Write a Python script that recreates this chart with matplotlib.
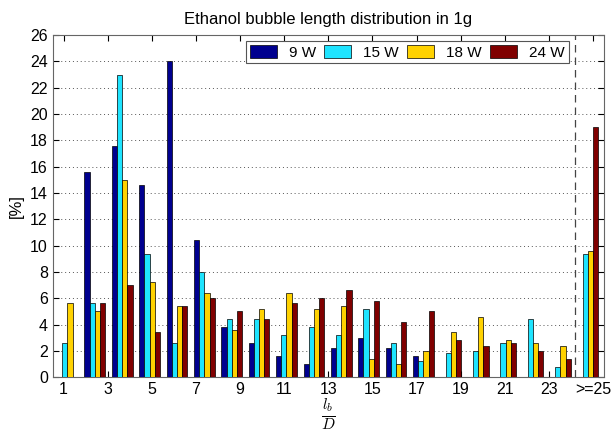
import numpy as np
import matplotlib
matplotlib.use("Agg")
import matplotlib.pyplot as plt

plt.rcParams['font.family'] = ['Liberation Sans', 'DejaVu Sans']
plt.rcParams['mathtext.fontset'] = 'cm'

# bubble length bins (l_b / D), last one collects everything >= 25
n_bins = 20
bin_pos = np.linspace(1.17, 24.76, n_bins)

series_labels = ['9 W', '15 W', '18 W', '24 W']
colors = ['#00008f', '#1ee4ff', '#ffd200', '#800000']

p9 = [0, 15.6, 17.6, 14.6, 24.0, 10.4, 3.85, 2.6, 1.6, 1.0,
      2.2, 3.0, 2.2, 1.6, 0, 0, 0, 0, 0, 0]
p15 = [2.6, 5.6, 23.0, 9.4, 2.6, 8.0, 4.4, 4.4, 3.2, 3.8,
       3.2, 5.2, 2.6, 1.25, 1.8, 2.0, 2.6, 4.4, 0.8, 9.4]
p18 = [5.6, 5.0, 15.0, 7.2, 5.4, 6.4, 3.55, 5.2, 6.4, 5.2,
       5.4, 1.4, 1.0, 2.0, 3.4, 4.6, 2.8, 2.6, 2.4, 9.6]
p24 = [0, 5.6, 7.0, 3.4, 5.4, 6.0, 5.0, 4.4, 5.6, 6.0,
       6.6, 5.8, 4.2, 5.0, 2.8, 2.4, 2.6, 2.0, 1.4, 19.0]

tick_pos = list(range(1, 24, 2)) + [25]
tick_labels = [str(t) for t in range(1, 24, 2)] + ['>=25']

fig = plt.figure(figsize=(6.12, 4.34), dpi=100)
ax = fig.add_axes([0.086, 0.131, 0.901, 0.788])

w = 0.235
for i, (vals, lab, c) in enumerate(zip([p9, p15, p18, p24], series_labels, colors)):
    ax.bar(bin_pos + (i - 1.5) * w, vals, width=w, color=c, edgecolor='black',
           linewidth=0.5, label=lab, zorder=3)

# separator before the open-ended bin
ax.axvline(24.2, color='#444444', linestyle=(0, (6, 4)), linewidth=0.9, zorder=2)

ax.set_xlim(0.5, 25.5)
ax.set_ylim(0, 26)
ax.set_yticks(range(0, 27, 2))
ax.set_xticks(tick_pos)
ax.set_xticklabels(tick_labels)
ax.tick_params(direction='in', top=True, right=True, labelsize=11.5, length=4)
ax.yaxis.grid(True, linestyle=(0, (1, 3)), color='#555555', linewidth=0.7, zorder=0)
for s in ax.spines.values():
    s.set_color('#666666')

ax.set_title('Ethanol bubble length distribution in 1g', fontsize=12, pad=8)
ax.set_ylabel('[%]', fontsize=12)
ax.set_xlabel(r'$\frac{l_b}{D}$', fontsize=16, labelpad=0)

leg = ax.legend(ncol=4, loc='upper right', bbox_to_anchor=(0.95, 1.005),
                fontsize=11, handlelength=1.75, handleheight=0.9,
                columnspacing=0.55, handletextpad=0.8, borderpad=0.25,
                fancybox=False, framealpha=1, edgecolor='#555555')
leg.get_frame().set_linewidth(0.8)

fig.savefig('out.png', dpi=100)
